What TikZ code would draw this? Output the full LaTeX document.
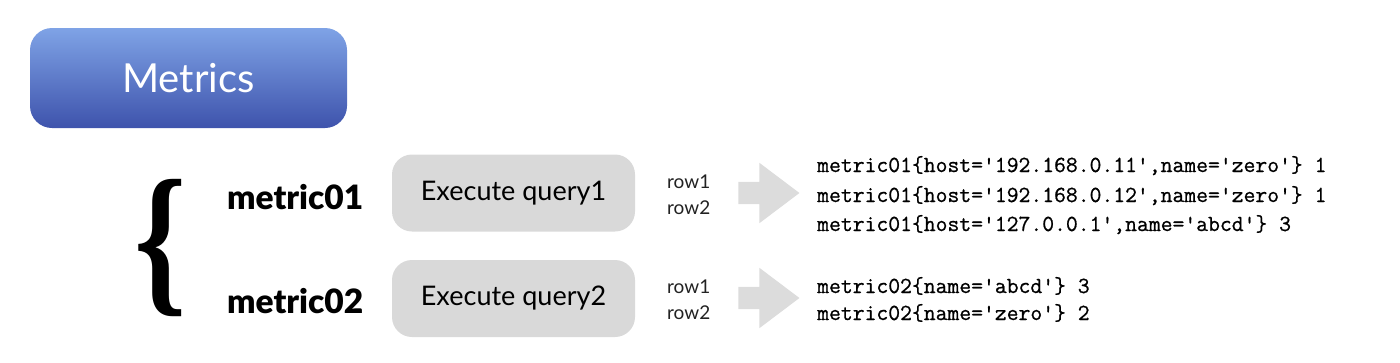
\documentclass[tikz,border=0pt]{standalone}
\usepackage{fontspec}
\setmainfont{Lato}
\newfontfamily\bracefont{Liberation Serif}
\newfontfamily\heavyfont{Lato Black}
\newfontfamily\codefont{Latin Modern Mono}[FakeBold=0.8]
\usetikzlibrary{shapes.arrows}

\definecolor{metricstop}{HTML}{7FA3E6}
\definecolor{metricsbot}{HTML}{3E53AC}
\definecolor{querygray}{HTML}{D9D9D9}
\definecolor{arrowgray}{HTML}{DCDCDC}
\definecolor{rowtext}{HTML}{222222}

\tikzset{
  metricsbox/.style={rounded corners=22pt, top color=metricstop, bottom color=metricsbot,
    minimum width=317pt, minimum height=100pt, inner sep=0pt, text=white,
    font=\fontsize{40}{48}\selectfont},
  querybox/.style={fill=querygray, rounded corners=20pt, minimum width=243pt,
    minimum height=77pt, inner sep=0pt, font=\fontsize{27}{32}\selectfont},
  metricname/.style={anchor=base west, inner sep=0pt, font=\fontsize{33.5}{40}\heavyfont},
  rowlabel/.style={anchor=base west, inner sep=0pt, text=rowtext, font=\fontsize{19}{23}\selectfont},
  blockarrow/.style={single arrow, fill=arrowgray, inner sep=11pt, minimum height=61pt,
    minimum width=60pt, single arrow head extend=19pt, single arrow tip angle=74},
  codeline/.style={anchor=base west, inner sep=0pt, font=\fontsize{23}{27}\codefont}
}

\begin{document}
\begin{tikzpicture}[x=1pt, y=-1pt]
  \useasboundingbox (0,0) rectangle (1400,362);

  % title
  \node[metricsbox] (metrics) at (188.5,78) {Metrics};

  % brace and metric names
  \node[inner sep=0pt, xscale=0.8, font=\fontsize{166}{170}\bracefont\bfseries] (brace) at (161,248) {\{};
  \node[metricname] (name1) at (227,209) {metric01};
  \node[metricname] (name2) at (227,313) {metric02};

  % queries
  \node[querybox] (query1) at (513.5,193) {Execute query1};
  \node[querybox] (query2) at (513.5,298.5) {Execute query2};

  % rows
  \node[rowlabel] (row11) at (667,188) {row1};
  \node[rowlabel] (row12) at (667,214) {row2};
  \node[rowlabel] (row21) at (667,293) {row1};
  \node[rowlabel] (row22) at (667,319) {row2};

  \node[blockarrow] (arrow1) at (761.5,193) {};
  \node[blockarrow] (arrow2) at (761.5,298) {};

  % resulting series
  \node[codeline] (line11) at (817,172) {metric01\{host='192.168.0.11',name='zero'\} 1};
  \node[codeline] (line12) at (817,202) {metric01\{host='192.168.0.12',name='zero'\} 1};
  \node[codeline] (line13) at (817,231) {metric01\{host='127.0.0.1',name='abcd'\} 3};
  \node[codeline] (line21) at (817,293) {metric02\{name='abcd'\} 3};
  \node[codeline] (line22) at (817,320) {metric02\{name='zero'\} 2};
\end{tikzpicture}
\end{document}
